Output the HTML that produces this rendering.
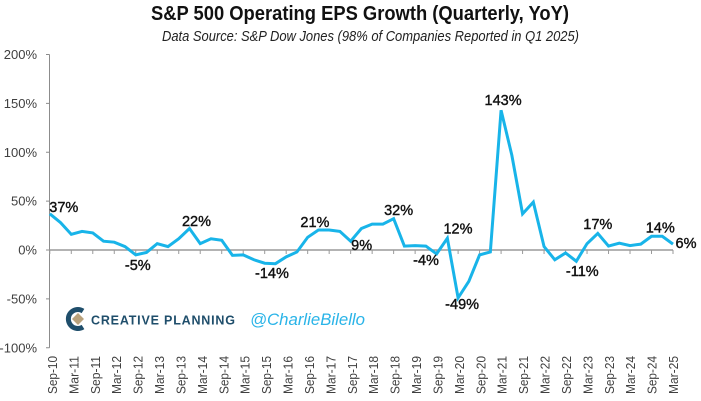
<!DOCTYPE html>
<html lang="en">
<head>
<meta charset="utf-8">
<title>S&amp;P 500 Operating EPS Growth</title>
<style>
html,body{margin:0;padding:0;background:#fff;}
svg{display:block;font-family:"Liberation Sans",sans-serif;}
</style>
</head>
<body>
<svg id="chart" width="701" height="401" viewBox="0 0 701 401" xmlns="http://www.w3.org/2000/svg">
  <rect width="701" height="401" fill="#fff"/>
  <text x="151" y="20" font-size="20" font-weight="bold" fill="#111" textLength="418" lengthAdjust="spacingAndGlyphs">S&amp;P 500 Operating EPS Growth (Quarterly, YoY)</text>
  <text x="162" y="41" font-size="14.5" font-style="italic" fill="#222" textLength="417" lengthAdjust="spacingAndGlyphs">Data Source: S&amp;P Dow Jones (98% of Companies Reported in Q1 2025)</text>
  <g id="axes"></g>
  <g id="series"></g>
  <g id="labels"></g>
  <g>
    <path d="M83 311 A9.5 9.5 0 1 0 83 327" fill="none" stroke="#1f4e6b" stroke-width="5"/>
    <path d="M78 313 L84 319 L78 325 L72 319 Z" fill="#b9a27c"/>
    <text x="91" y="324.5" font-size="12.5" font-weight="bold" fill="#1f4e6b" textLength="144" lengthAdjust="spacing">CREATIVE PLANNING</text>
  </g>
  <text x="250" y="325" font-size="16.5" font-style="italic" fill="#2ab4e8" textLength="115" lengthAdjust="spacingAndGlyphs">@CharlieBilello</text>
</svg>
<script>
const categories = ["Sep-10","Dec-10","Mar-11","Jun-11","Sep-11","Dec-11","Mar-12","Jun-12","Sep-12","Dec-12","Mar-13","Jun-13","Sep-13","Dec-13","Mar-14","Jun-14","Sep-14","Dec-14","Mar-15","Jun-15","Sep-15","Dec-15","Mar-16","Jun-16","Sep-16","Dec-16","Mar-17","Jun-17","Sep-17","Dec-17","Mar-18","Jun-18","Sep-18","Dec-18","Mar-19","Jun-19","Sep-19","Dec-19","Mar-20","Jun-20","Sep-20","Dec-20","Mar-21","Jun-21","Sep-21","Dec-21","Mar-22","Jun-22","Sep-22","Dec-22","Mar-23","Jun-23","Sep-23","Dec-23","Mar-24","Jun-24","Sep-24","Dec-24","Mar-25"];
const epsGrowth = [37,28,16,19,17.5,9,8,3.5,-5,-2.5,6.5,3.5,11.5,22,6.5,11.5,10,-5.5,-5,-10,-13.5,-14,-7,-2,13,20.5,20.5,19,9,22,26.5,26.5,32,4,4.5,4,-4,12,-49,-32,-5,-2,143,97,37,49,3.5,-10,-3,-11.5,6.5,17,4,7,4.5,6,14,14,6];
const yTicks = [200,150,100,50,0,-50,-100];
const labelledCategories = ["Sep-10","Sep-12","Dec-13","Dec-15","Dec-16","Sep-17","Sep-18","Sep-19","Dec-19","Mar-20","Mar-21","Dec-22","Jun-23","Dec-24","Mar-25"];
const labelTexts = ["37%","-5%","22%","-14%","21%","9%","32%","-4%","12%","-49%","143%","-11%","17%","14%","6%"];

const SVGNS = 'http://www.w3.org/2000/svg';
const labelNudgeX = [14,2,7,-3.5,-3.5,11,5,-10.6,10.6,4,2,6,0,-2,13];
const labelNudgeY = [-2,15,-2.5,14.3,-3,9,-3.7,11,-5,11,-5,15,-4.4,-4,4];

function xScale(i){ return 49.8 + i * (673 - 49.8) / (categories.length - 1); }
function xLabelScale(i){ return 52.5 + i * (673.5 - 52.5) / (categories.length - 1); }
function yScale(v){ return 250 - v * 0.9775; }
function make(tag, attrs){
  const el = document.createElementNS(SVGNS, tag);
  for (const k in attrs) el.setAttribute(k, attrs[k]);
  return el;
}

const axes = document.getElementById('axes');
const yLine = make('line', {x1:49.5, x2:49.5, y1:yScale(200), y2:yScale(-100), stroke:'#8c8c8c', 'stroke-width':1});


axes.appendChild(yLine);

yTicks.forEach(function(t){
  const tick = make('line', {x1:46, x2:49.5, y1:yScale(t), y2:yScale(t), stroke:'#8c8c8c', 'stroke-width':1});
  
  
  axes.appendChild(tick);
  const label = make('text', {x:37, y:yScale(t) + 4.5, 'text-anchor':'end', 'font-size':13, fill:'#404040'});
  
  
  label.textContent = t + '%';
  axes.appendChild(label);
});

const xLine = make('line', {x1:49.5, x2:xScale(categories.length - 1), y1:yScale(0), y2:yScale(0), stroke:'#9a9a9a', 'stroke-width':1.4});


axes.appendChild(xLine);

categories.forEach(function(c, i){
  if (i % 2 !== 0) return;
  const tick = make('line', {x1:xScale(i), x2:xScale(i), y1:yScale(0), y2:yScale(0) + 4, stroke:'#9a9a9a', 'stroke-width':1});
  
  
  axes.appendChild(tick);
  const lx = xLabelScale(i) + 4.5;
  const label = make('text', {transform:'translate(' + lx + ',356) rotate(-90)', 'text-anchor':'end', 'font-size':12.5, fill:'#404040', textLength:38, lengthAdjust:'spacingAndGlyphs'});
  
  
  label.textContent = c;
  axes.appendChild(label);
});

const line = make('polyline', {
  points: epsGrowth.map(function(v, i){ return xScale(i).toFixed(2) + ',' + yScale(v).toFixed(2); }).join(' '),
  fill:'none', stroke:'#18b4e9', 'stroke-width':3, 'stroke-linejoin':'miter', 'stroke-miterlimit':6
});


document.getElementById('series').appendChild(line);

const labelsGroup = document.getElementById('labels');
labelledCategories.forEach(function(c, k){
  const i = categories.indexOf(c);
  const label = make('text', {
    x: xScale(i) + labelNudgeX[k],
    y: yScale(epsGrowth[i]) + labelNudgeY[k],
    'text-anchor':'middle', 'font-size':14.5, fill:'#111', stroke:'#111', 'stroke-width':0.4
  });
  
  
  label.textContent = labelTexts[k];
  labelsGroup.appendChild(label);
});
</script>
</body>
</html>
